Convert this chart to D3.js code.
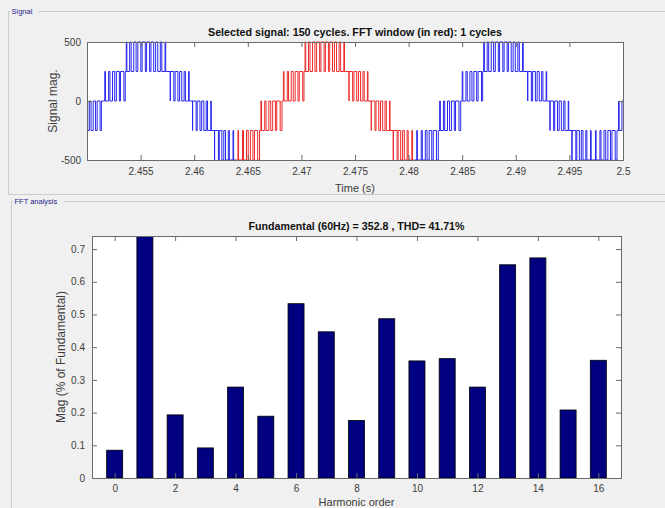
<!DOCTYPE html>
<html>
<head>
<meta charset="utf-8">
<script src="https://cdn.jsdelivr.net/npm/d3@7"></script>
<style>
body { margin: 0; background: #f0f0f0; }
svg { display: block; font-family: "Liberation Sans", Arial, sans-serif; }
</style>
</head>
<body>
<svg id="chart"></svg>
<script>
// ---- data: harmonic spectrum ----
const harmonicOrder = [0, 1, 2, 3, 4, 5, 6, 7, 8, 9, 10, 11, 12, 13, 14, 15, 16];
const harmonicMag = [0.085, 100, 0.193, 0.092, 0.278, 0.189, 0.533, 0.447, 0.176, 0.487, 0.358, 0.365, 0.278, 0.652, 0.673, 0.208, 0.360];
const magTicks = [0, 0.1, 0.2, 0.3, 0.4, 0.5, 0.6, 0.7];
const orderTicks = [0, 2, 4, 6, 8, 10, 12, 14, 16];

// ---- data: signal (times in ms after 2.45 s) ----
const timeTicks = [2.455, 2.46, 2.465, 2.47, 2.475, 2.48, 2.485, 2.49, 2.495, 2.5];
const magSigTicks = [-500, 0, 500];
const fftWindow = [2.4638, 2.48047];
const bandStart = [0, 1.52, 3.57, 7.77, 9.85, 11.90, 16.10, 18.19, 20.24, 24.44, 26.52, 28.57, 32.77, 34.86, 36.91, 41.11, 43.19, 45.24, 49.44];
const bandLow  = [-250, 0, 250, 0, -250, -500, -250, 0, 250, 0, -250, -500, -250, 0, 250, 0, -250, -500, -250];
const bandHigh = [0, 250, 500, 250, 0, -250, 0, 250, 500, 250, 0, -250, 0, 250, 500, 250, 0, -250, 0];
// intervals spent at the band's high level
const bandPulses = [
  [[0,0.06],[0.22,0.38],[0.58,0.80],[0.95,1.22],[1.34,1.52]],
  [[1.66,1.72],[2.02,2.14],[2.38,2.58],[2.74,3.02],[3.12,3.44]],
  [[3.66,3.72],[3.98,4.12],[4.36,4.58],[4.74,5.02],[5.14,5.44],[5.56,5.84],[5.97,6.22],[6.40,6.60],[6.84,6.98],[7.28,7.34]],
  [[7.77,8.10],[8.22,8.48],[8.64,8.84],[9.06,9.18],[9.48,9.53]],
  [[9.85,10.18],[10.28,10.54],[10.70,10.90],[11.12,11.24],[11.55,11.60]],
  [[11.90,12.26],[12.34,12.58],[12.76,12.92],[13.18,13.28],[13.62,13.68],[14.08,14.14],[14.50,14.60],[14.88,15.04],[15.24,15.48],[15.62,15.92]],
  [[16.22,16.28],[16.58,16.70],[16.96,17.14],[17.32,17.58],[17.70,18.02]],
  [[18.32,18.38],[18.68,18.80],[19.05,19.24],[19.42,19.68],[19.80,20.12]],
  [[20.34,20.40],[20.66,20.80],[21.04,21.26],[21.42,21.70],[21.82,22.12],[22.24,22.52],[22.64,22.90],[23.08,23.28],[23.52,23.66],[23.96,24.02]],
  [[24.44,24.78],[24.90,25.16],[25.32,25.52],[25.74,25.86],[26.16,26.21]],
  [[26.52,26.86],[26.96,27.22],[27.38,27.58],[27.80,27.92],[28.22,28.27]],
  [[28.57,28.93],[29.02,29.26],[29.44,29.60],[29.86,29.96],[30.30,30.36],[30.76,30.82],[31.18,31.28],[31.56,31.72],[31.92,32.16],[32.30,32.60]],
  [[32.90,32.96],[33.25,33.37],[33.63,33.82],[34.00,34.26],[34.38,34.70]],
  [[35.00,35.06],[35.35,35.47],[35.72,35.91],[36.09,36.35],[36.48,36.80]],
  [[37.01,37.07],[37.33,37.47],[37.71,37.93],[38.09,38.37],[38.49,38.79],[38.91,39.19],[39.31,39.57],[39.75,39.95],[40.19,40.33],[40.63,40.69]],
  [[41.11,41.45],[41.57,41.83],[41.99,42.19],[42.41,42.53],[42.83,42.88]],
  [[43.19,43.53],[43.63,43.89],[44.05,44.25],[44.47,44.59],[44.89,44.94]],
  [[45.24,45.60],[45.69,45.93],[46.11,46.27],[46.53,46.63],[46.97,47.03],[47.43,47.49],[47.85,47.95],[48.23,48.39],[48.59,48.83],[48.97,49.27]],
  [[49.58,49.64],[49.90,50.0]]
];
const signalEnd = 50;

const svgWidth = 665, svgHeight = 508;
const labelColor = "#3c3c3c";
const boxColor = "#6a6a6a";

const chart = d3.select("#chart")
    .attr("width", svgWidth)
    .attr("height", svgHeight);

// panels
function panel(x, y, w, h, title, labelW) {
    chart.append("rect")
        .attr("x", x).attr("y", y).attr("width", w).attr("height", h)
        .attr("fill", "none").attr("stroke", "#cdcdcd");
    chart.append("rect")
        .attr("x", x + 2).attr("y", y - 5).attr("width", labelW).attr("height", 10)
        .attr("fill", "#f0f0f0");
    chart.append("text")
        .attr("x", x + 3).attr("y", y + 2.5)
        .style("font-size", "7.5px").style("fill", "#1d1d8a")
        .text(title);
}
panel(8.5, 11.5, 660, 183, "Signal", 28);
panel(11.5, 201.5, 660, 330, "FFT analysis", 50);

// ---------------- signal plot ----------------
const sig = {left: 87, right: 623, top: 42, bottom: 160};
var xSig = d3.scaleLinear().domain([2.45, 2.5]).range([sig.left, sig.right]);
var ySig = d3.scaleLinear().domain([-500, 500]).range([sig.bottom, sig.top]);

chart.append("rect")
    .attr("x", sig.left).attr("y", sig.top)
    .attr("width", sig.right - sig.left).attr("height", sig.bottom - sig.top)
    .attr("fill", "white");

// build stepped waveform
var pts = [];
bandStart.forEach(function(s, i) {
    var end = i < bandStart.length - 1 ? bandStart[i + 1] : signalEnd;
    pts.push([s, bandLow[i]]);
    bandPulses[i].forEach(function(p) {
        pts.push([p[0], bandHigh[i]]);
        if (p[1] < end) pts.push([p[1], bandLow[i]]);
    });
});
pts.push([signalEnd, pts[pts.length - 1][1]]);

var defs = chart.append("defs");
var clipBlue = defs.append("clipPath").attr("id", "clipBlue");
clipBlue.append("rect")
    .attr("x", sig.left).attr("y", sig.top - 1)
    .attr("width", xSig(fftWindow[0]) - sig.left).attr("height", sig.bottom - sig.top + 2);
clipBlue.append("rect")
    .attr("x", xSig(fftWindow[1])).attr("y", sig.top - 1)
    .attr("width", sig.right - xSig(fftWindow[1]) + 1).attr("height", sig.bottom - sig.top + 2);
defs.append("clipPath").attr("id", "clipRed").append("rect")
    .attr("x", xSig(fftWindow[0])).attr("y", sig.top - 1)
    .attr("width", xSig(fftWindow[1]) - xSig(fftWindow[0])).attr("height", sig.bottom - sig.top + 2);

var sigLine = d3.line()
    .x(function(d) { return xSig(2.45 + d[0] / 1000); })
    .y(function(d) { return ySig(d[1]); })
    .curve(d3.curveStepAfter);

chart.append("path").datum(pts)
    .attr("d", sigLine).attr("fill", "none")
    .attr("stroke", "#2626ee").attr("stroke-width", 1)
    .attr("clip-path", "url(#clipBlue)");
chart.append("path").datum(pts)
    .attr("d", sigLine).attr("fill", "none")
    .attr("stroke", "#ec2a2a").attr("stroke-width", 1)
    .attr("clip-path", "url(#clipRed)");

function styleAxis(g) {
    g.select(".domain").remove();
    g.selectAll("line").attr("stroke", boxColor);
    g.selectAll("text").style("fill", labelColor).style("font-size", "10px")
        .style("font-family", "'Liberation Sans', Arial, sans-serif");
}

chart.append("g").attr("transform", "translate(0," + sig.bottom + ")")
    .call(d3.axisBottom(xSig).tickValues(timeTicks).tickFormat(d3.format("")).tickSizeInner(-5).tickSizeOuter(0).tickPadding(8))
    .call(styleAxis);
chart.append("g").attr("transform", "translate(0," + sig.top + ")")
    .call(d3.axisTop(xSig).tickValues(timeTicks).tickFormat("").tickSizeInner(-5).tickSizeOuter(0))
    .call(styleAxis);
chart.append("g").attr("transform", "translate(" + sig.left + ",0)")
    .call(d3.axisLeft(ySig).tickValues(magSigTicks).tickFormat(function(d) { return String(d); }).tickSizeInner(-5).tickSizeOuter(0).tickPadding(6))
    .call(styleAxis);
chart.append("g").attr("transform", "translate(" + sig.right + ",0)")
    .call(d3.axisRight(ySig).tickValues(magSigTicks).tickFormat("").tickSizeInner(-5).tickSizeOuter(0))
    .call(styleAxis);

chart.append("rect")
    .attr("x", sig.left + 0.5).attr("y", sig.top + 0.5)
    .attr("width", sig.right - sig.left).attr("height", sig.bottom - sig.top)
    .attr("fill", "none").attr("stroke", boxColor);

chart.append("text")
    .attr("x", (sig.left + sig.right) / 2).attr("y", 36)
    .attr("text-anchor", "middle")
    .attr("textLength", 294).attr("lengthAdjust", "spacingAndGlyphs")
    .style("font-size", "11px").style("font-weight", "bold").style("fill", "#111")
    .text("Selected signal: 150 cycles. FFT window (in red): 1 cycles");
chart.append("text")
    .attr("x", (sig.left + sig.right) / 2).attr("y", 192)
    .attr("text-anchor", "middle")
    .style("font-size", "11px").style("fill", labelColor)
    .text("Time (s)");
chart.append("text")
    .attr("transform", "translate(57," + ((sig.top + sig.bottom) / 2) + ") rotate(-90)")
    .attr("text-anchor", "middle")
    .style("font-size", "12px").style("fill", labelColor)
    .text("Signal mag.");

// ---------------- FFT bar plot ----------------
const fft = {left: 92, right: 621, top: 236, bottom: 478};
var xFft = d3.scaleLinear().domain([-0.75, 16.75]).range([fft.left, fft.right]);
var yFft = d3.scaleLinear().domain([0, 0.74]).range([fft.bottom, fft.top]);
const barWidth = 0.53;

chart.append("rect")
    .attr("x", fft.left).attr("y", fft.top)
    .attr("width", fft.right - fft.left).attr("height", fft.bottom - fft.top)
    .attr("fill", "white");

defs.append("clipPath").attr("id", "clipFft").append("rect")
    .attr("x", fft.left).attr("y", fft.top)
    .attr("width", fft.right - fft.left).attr("height", fft.bottom - fft.top);

chart.append("g").attr("clip-path", "url(#clipFft)")
    .selectAll(".bar")
    .data(harmonicOrder)
    .enter()
    .append("rect")
    .attr("class", "bar")
    .attr("x", function(d) { return xFft(d - barWidth / 2); })
    .attr("width", function(d) { return xFft(barWidth) - xFft(0); })
    .attr("y", function(d, i) { return yFft(harmonicMag[i]); })
    .attr("height", function(d, i) { return yFft(0) - yFft(harmonicMag[i]); })
    .attr("fill", "#000080")
    .attr("stroke", "#000")
    .attr("stroke-width", 0.8);

chart.append("g").attr("transform", "translate(0," + fft.bottom + ")")
    .call(d3.axisBottom(xFft).tickValues(orderTicks).tickSizeInner(-5).tickSizeOuter(0).tickPadding(7))
    .call(styleAxis);
chart.append("g").attr("transform", "translate(0," + fft.top + ")")
    .call(d3.axisTop(xFft).tickValues(orderTicks).tickFormat("").tickSizeInner(-5).tickSizeOuter(0))
    .call(styleAxis);
chart.append("g").attr("transform", "translate(" + fft.left + ",0)")
    .call(d3.axisLeft(yFft).tickValues(magTicks).tickFormat(d3.format("")).tickSizeInner(-5).tickSizeOuter(0).tickPadding(7))
    .call(styleAxis);
chart.append("g").attr("transform", "translate(" + fft.right + ",0)")
    .call(d3.axisRight(yFft).tickValues(magTicks).tickFormat("").tickSizeInner(-5).tickSizeOuter(0))
    .call(styleAxis);

chart.append("rect")
    .attr("x", fft.left + 0.5).attr("y", fft.top + 0.5)
    .attr("width", fft.right - fft.left).attr("height", fft.bottom - fft.top)
    .attr("fill", "none").attr("stroke", boxColor);

chart.append("text")
    .attr("x", (fft.left + fft.right) / 2).attr("y", 230)
    .attr("text-anchor", "middle")
    .attr("textLength", 216).attr("lengthAdjust", "spacingAndGlyphs")
    .style("font-size", "11px").style("font-weight", "bold").style("fill", "#111")
    .text("Fundamental (60Hz) = 352.8 , THD= 41.71%");
chart.append("text")
    .attr("x", (fft.left + fft.right) / 2).attr("y", 506)
    .attr("text-anchor", "middle")
    .style("font-size", "11px").style("fill", labelColor)
    .text("Harmonic order");
chart.append("text")
    .attr("transform", "translate(65," + ((fft.top + fft.bottom) / 2) + ") rotate(-90)")
    .attr("text-anchor", "middle")
    .style("font-size", "12px").style("fill", labelColor)
    .text("Mag (% of Fundamental)");
</script>
</body>
</html>
